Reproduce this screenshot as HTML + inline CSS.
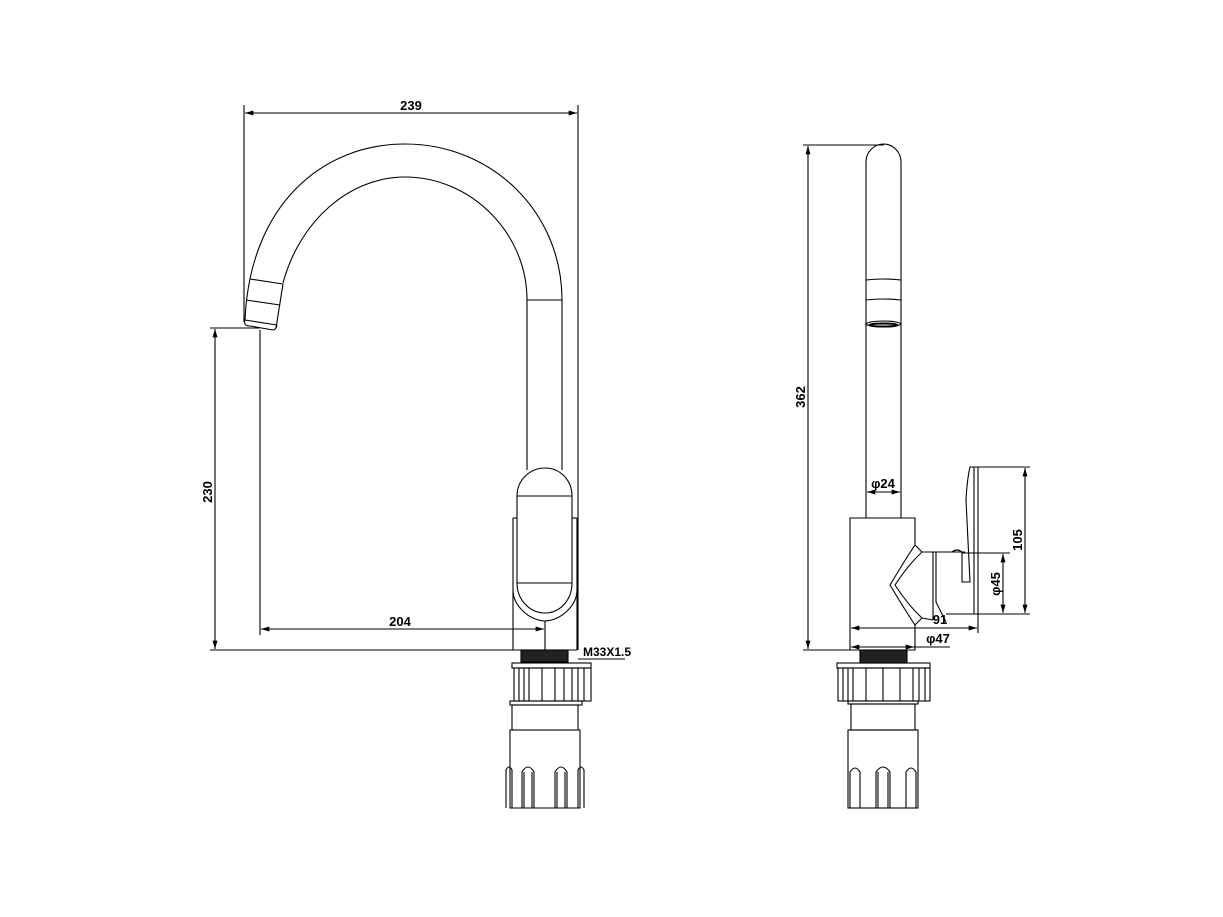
<!DOCTYPE html>
<html><head><meta charset="utf-8"><style>
html,body{margin:0;padding:0;background:#fff}
svg{display:block}
text{font-family:"Liberation Sans Narrow","Liberation Sans",sans-serif;font-weight:bold;fill:#000}
</style></head><body>
<svg width="1223" height="917" viewBox="0 0 1223 917" xmlns="http://www.w3.org/2000/svg">
<defs>
<marker id="a" viewBox="0 0 10 6" refX="10" refY="3" markerWidth="9" markerHeight="5" orient="auto-start-reverse" markerUnits="userSpaceOnUse"><path d="M0,0 L10,3 L0,6 z" fill="#000"/></marker>
</defs>
<g fill="none" stroke="#000" stroke-width="1.1">
<line x1="244" y1="105" x2="244" y2="322"/>
<line x1="578" y1="105" x2="578" y2="650"/>
<line x1="245" y1="113" x2="577" y2="113" marker-start="url(#a)" marker-end="url(#a)"/>
<path d="M245,320 C250,205 322,144 405,144 C492,144 562,212 562,300 L562,470"/>
<path d="M283,283 C300,220 350,177 405,177 C470,177 527,232 527,300 L527,470"/>
<line x1="527" y1="300" x2="562" y2="300"/>
<line x1="250" y1="279" x2="283" y2="284"/>
<line x1="246" y1="300" x2="280" y2="305"/>
<line x1="245" y1="320" x2="277" y2="325"/>
<line x1="283" y1="284" x2="276" y2="328"/>
<path d="M245,320 Q243,326 250,326 L273,330 Q276,330 277,325"/>
<path d="M517,583 L517,496 C517,480 530,468 545,468 C560,468 572,480 572,496 L572,583"/>
<line x1="517" y1="496" x2="572" y2="496"/>
<line x1="517" y1="583" x2="572" y2="583"/>
<path d="M517,583 C517,600 530,613 545,613 C560,613 572,600 572,583"/>
<path d="M513,518 L513,590 C513,605 528,620 545,621 C562,620 577,605 577,590 L577,518"/>
<line x1="517" y1="518" x2="513" y2="518"/>
<line x1="572" y1="518" x2="577" y2="518"/>
<line x1="513" y1="590" x2="513" y2="650"/>
<line x1="577" y1="590" x2="577" y2="650"/>
<line x1="513" y1="650" x2="577" y2="650"/>
<line x1="545" y1="621" x2="545" y2="650"/>
<line x1="210" y1="328" x2="260" y2="328"/>
<line x1="210" y1="650" x2="513" y2="650"/>
<line x1="215" y1="329" x2="215" y2="649" marker-start="url(#a)" marker-end="url(#a)"/>
<line x1="260" y1="330" x2="260" y2="635"/>
<line x1="261" y1="629" x2="544" y2="629" marker-start="url(#a)" marker-end="url(#a)"/>
<line x1="578" y1="659" x2="625" y2="659"/>
<rect x="521" y="650" width="47" height="12" fill="#222"/>
<rect x="512" y="663" width="79" height="5"/>
<rect x="514" y="668" width="77" height="33"/>
<path d="M519,668V701M524,668V701M529,668V701M542,668V701M555,668V701M564,668V701M572,668V701M578,668V701M584,668V701"/>
<rect x="510" y="701" width="72" height="4"/>
<rect x="512" y="705" width="66" height="25"/>
<path d="M510,730 H580 V808 H510 Z"/>
<path d="M506,808 V770 Q509,764 512,770 V808"/>
<path d="M522,808 V772 Q528,762 534,772 V808 M524,808 V772 M532,808 V772"/>
<path d="M555,808 V772 Q561,762 567,772 V808 M557,808 V772 M565,808 V772"/>
<path d="M578,808 V770 Q581,764 584,770 V808"/>

<line x1="803" y1="145" x2="884" y2="145"/>
<line x1="803" y1="650" x2="915" y2="650"/>
<line x1="808" y1="146" x2="808" y2="649" marker-start="url(#a)" marker-end="url(#a)"/>
<path d="M866,518 L866,162 C866,152 874,144 883.5,144 C893,144 901,152 901,162 L901,518"/>
<path d="M866,280 Q883,278 901,280 M866,300 Q883,298 901,300"/>
<ellipse cx="883.5" cy="324" rx="17" ry="3"/>
<ellipse cx="883.5" cy="325" rx="14" ry="1.5" stroke-width="2"/>
<line x1="867" y1="492" x2="900" y2="492" marker-start="url(#a)" marker-end="url(#a)"/>
<path d="M915,545 V518 H850 V650 H915 V625"/>
<path d="M915,545 Q905,560 890,585 Q905,610 915,625"/>
<path d="M922,552 Q908,565 895,585 Q908,605 922,618"/>
<line x1="915" y1="545" x2="922" y2="552"/>
<line x1="915" y1="625" x2="922" y2="618"/>
<line x1="922" y1="552" x2="965" y2="552"/>
<path d="M933,552 V620 M936,552 V602 L946,622"/>
<line x1="922" y1="618" x2="933" y2="620"/>
<line x1="946" y1="614" x2="978" y2="614"/>
<path d="M952,552 Q957,548 962,552"/>
<path d="M962,552 V582 H970 Q968,540 966,500 Q967,480 970,467 L978,467 V614 M974,467 V614"/>
<line x1="975" y1="467" x2="1030" y2="467"/>
<line x1="978" y1="614" x2="1030" y2="614"/>
<line x1="1025" y1="468" x2="1025" y2="613" marker-start="url(#a)" marker-end="url(#a)"/>
<line x1="962" y1="553" x2="1010" y2="553"/>
<line x1="1003" y1="554" x2="1003" y2="613" marker-start="url(#a)" marker-end="url(#a)"/>
<line x1="978" y1="614" x2="978" y2="633"/>
<line x1="851" y1="628" x2="977" y2="628" marker-start="url(#a)" marker-end="url(#a)"/>
<line x1="851" y1="647" x2="914" y2="647" marker-start="url(#a)" marker-end="url(#a)"/>
<line x1="914" y1="647" x2="950" y2="647"/>
<rect x="860" y="650" width="47" height="13" fill="#222"/>
<rect x="837" y="663" width="93" height="5"/>
<rect x="838" y="668" width="92" height="33"/>
<path d="M843,668V701M848,668V701M853,668V701M866,668V701M883,668V701M900,668V701M913,668V701M919,668V701M925,668V701"/>
<rect x="848" y="701" width="70" height="3"/>
<rect x="851" y="704" width="64" height="26"/>
<rect x="848" y="730" width="70" height="78"/>
<path d="M850,808 V772 Q855,764 860,772 V808"/>
<path d="M876,808 V772 Q883,762 890,772 V808 M878,808 V772 M888,808 V772"/>
<path d="M906,808 V772 Q911,764 916,772 V808"/>
</g>
<g font-size="13">
<text x="411" y="110" text-anchor="middle">239</text>
<text x="400" y="626" text-anchor="middle">204</text>
<text x="583" y="656" font-size="12">M33X1.5</text>
<text transform="translate(212,492) rotate(-90)" text-anchor="middle">230</text>
<text transform="translate(805,397) rotate(-90)" text-anchor="middle">362</text>
<text x="883" y="488" text-anchor="middle">φ24</text>
<text transform="translate(1022,540) rotate(-90)" text-anchor="middle">105</text>
<text transform="translate(1000,584) rotate(-90)" text-anchor="middle">φ45</text>
<text x="940" y="624" text-anchor="middle">91</text>
<text x="938" y="643" text-anchor="middle">φ47</text>
</g>
</svg>
</body></html>
